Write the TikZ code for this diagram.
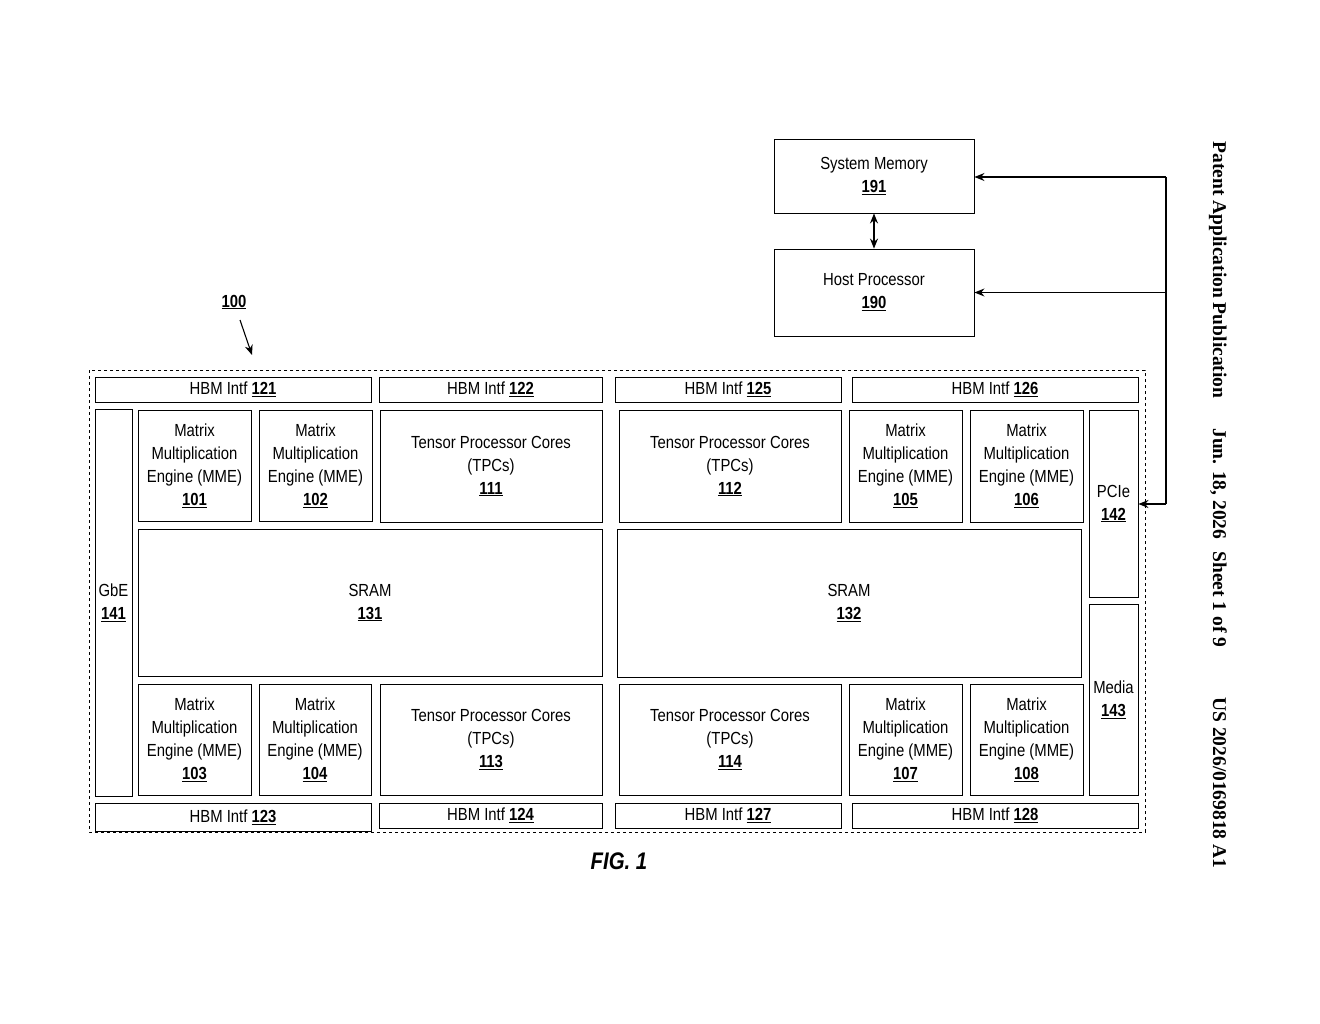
\documentclass[tikz,border=0pt]{standalone}
\usepackage{fontspec}
\setmainfont{Liberation Sans}[FakeStretch=0.85]
\newfontfamily\pubfont{Liberation Serif}
\usetikzlibrary{arrows.meta}
\newcommand\num[1]{\underline{\textbf{#1}}}
\newcommand\blk[6]{\node[blk, minimum width={#4-#2}, minimum height={#5-#3}] (#1) at ({(#2+#4)/2},{(#3+#5)/2}) {#6};}
\begin{document}
\begin{tikzpicture}[x=1pt,y=-1pt,
  blk/.style={draw, line width=0.9pt, inner sep=0pt, align=center, font=\fontsize{17.5}{23}\selectfont},
  arr/.style={-{Stealth[length=10pt,width=8pt]}, line width=1.1pt}]
\useasboundingbox (0,0) rectangle (1320,1024);
% host side
\blk{mem}{774}{139}{974}{213}{System Memory\\\num{191}}
\blk{host}{774}{249}{974}{336}{Host Processor\\\num{190}}
\draw[arr, {Stealth[length=10pt,width=8pt]}-{Stealth[length=10pt,width=8pt]}] (mem) -- (host);
% chip outline
\draw[dashed, line width=0.9pt] (89,370) rectangle (1145,832);
\node[font=\fontsize{17.5}{20}\selectfont] (lbl) at (234,302) {\num{100}};
\coordinate (tip) at (252,355);
\draw[arr] (240,320) -- (tip);
% HBM
\blk{h121}{95}{377}{371}{402}{HBM Intf \num{121}}
\blk{h122}{379}{377}{602}{402}{HBM Intf \num{122}}
\blk{h125}{615}{377}{841}{402}{HBM Intf \num{125}}
\blk{h126}{852}{377}{1138}{402}{HBM Intf \num{126}}
\blk{h123}{95}{803}{371}{831}{HBM Intf \num{123}}
\blk{h124}{379}{803}{602}{828}{HBM Intf \num{124}}
\blk{h127}{615}{803}{841}{828}{HBM Intf \num{127}}
\blk{h128}{852}{803}{1138}{828}{HBM Intf \num{128}}
% IO
\blk{gbe}{95}{409}{132}{796}{GbE\\\num{141}}
\blk{pcie}{1089}{410}{1138}{597}{PCIe\\\num{142}}
\blk{media}{1089}{604}{1138}{795}{Media\\\num{143}}
% top row
\blk{m101}{138}{410}{251}{521}{Matrix\\Multiplication\\Engine (MME)\\\num{101}}
\blk{m102}{259}{410}{372}{521}{Matrix\\Multiplication\\Engine (MME)\\\num{102}}
\blk{t111}{380}{410}{602}{522}{Tensor Processor Cores\\(TPCs)\\\num{111}}
\blk{t112}{619}{410}{841}{522}{Tensor Processor Cores\\(TPCs)\\\num{112}}
\blk{m105}{849}{410}{962}{522}{Matrix\\Multiplication\\Engine (MME)\\\num{105}}
\blk{m106}{970}{410}{1083}{522}{Matrix\\Multiplication\\Engine (MME)\\\num{106}}
% SRAM
\blk{s131}{138}{529}{602}{676}{SRAM\\\num{131}}
\blk{s132}{617}{529}{1081}{677}{SRAM\\\num{132}}
% bottom row
\blk{m103}{138}{684}{251}{795}{Matrix\\Multiplication\\Engine (MME)\\\num{103}}
\blk{m104}{259}{684}{371}{795}{Matrix\\Multiplication\\Engine (MME)\\\num{104}}
\blk{t113}{380}{684}{602}{795}{Tensor Processor Cores\\(TPCs)\\\num{113}}
\blk{t114}{619}{684}{841}{795}{Tensor Processor Cores\\(TPCs)\\\num{114}}
\blk{m107}{849}{684}{962}{795}{Matrix\\Multiplication\\Engine (MME)\\\num{107}}
\blk{m108}{970}{684}{1083}{795}{Matrix\\Multiplication\\Engine (MME)\\\num{108}}
% PCIe links
\coordinate (bus) at (1166,177);
\coordinate (bend) at (1166,504);
\draw[line width=1.1pt] (bus) -- (bend);
\draw[arr] (bus) -- (mem.east |- bus);
\draw[arr] (bus |- host.east) -- (host.east);
\draw[arr] (bend) -- (pcie.east |- bend);
% caption and header
\node[font=\fontsize{24}{28}\selectfont\bfseries\itshape] (fig) at (619,861) {FIG. 1};
\node[rotate=-90, font=\pubfont\fontsize{19.5}{22}\selectfont\bfseries] (hdr) at (1218,505)
  {Patent Application Publication\hspace{30pt}Jun. 18, 2026\hspace{12pt}Sheet 1 of 9\hspace{50pt}US 2026/0169818 A1};
\end{tikzpicture}
\end{document}
